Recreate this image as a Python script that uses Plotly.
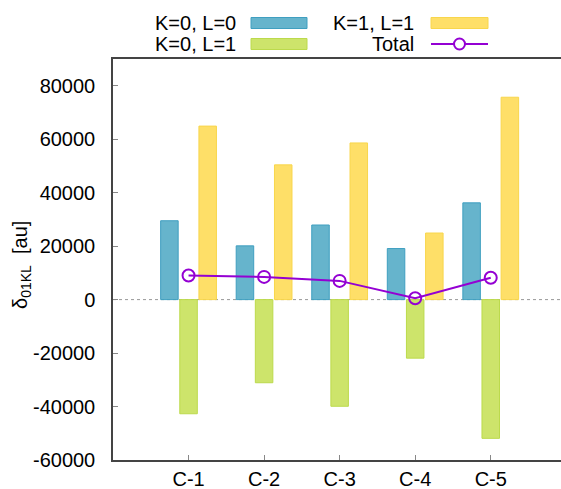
import plotly.graph_objects as go

# Configurations on the x axis
categories = ["C-1", "C-2", "C-3", "C-4", "C-5"]

# Contributions per configuration (atomic units)
k0_l0 = [29500, 20100, 27900, 19100, 36200]
k0_l1 = [-42700, -31100, -39900, -21900, -51900]
k1_l1 = [64900, 50400, 58600, 24900, 75700]
total = [9000, 8500, 7000, 500, 8200]

series_names = ["K=0, L=0", "K=0, L=1", "K=1, L=1", "Total"]

y_tick_values = [-60000, -40000, -20000, 0, 20000, 40000, 60000, 80000]
y_tick_labels = ["-60000", "-40000", "-20000", "0", "20000", "40000", "60000", "80000"]

W, H = 561, 489
ML, MR, MT, MB = 113, 0, 59, 29
PW, PH = W - ML - MR, H - MT - MB

FONT = "Liberation Sans, Arial, sans-serif"
BLUE, BLUE_EDGE = "#66b4cc", "#3f9fc0"
GREEN, GREEN_EDGE = "#cde46b", "#bcda4c"
YELLOW, YELLOW_EDGE = "#fedf68", "#f8d64c"
VIOLET = "#9400d3"
AXIS = "#444444"


def px_x(x):
    return (x - ML) / PW


def px_y(y):
    return (H - MB - y) / PH


fig = go.Figure()
bar_specs = [
    (k0_l0, series_names[0], BLUE, BLUE_EDGE),
    (k0_l1, series_names[1], GREEN, GREEN_EDGE),
    (k1_l1, series_names[2], YELLOW, YELLOW_EDGE),
]
for vals, name, fill, edge in bar_specs:
    fig.add_trace(go.Bar(
        x=categories, y=vals, name=name,
        marker=dict(color=fill, line=dict(color=edge, width=1)),
        showlegend=False,
    ))

fig.add_trace(go.Scatter(
    x=categories, y=total, name=series_names[3], mode="lines+markers",
    line=dict(color=VIOLET, width=2),
    marker=dict(symbol="circle-open", size=12, color=VIOLET, line=dict(width=2, color=VIOLET)),
    showlegend=False,
))

shapes = [
    # dotted zero line
    dict(type="line", xref="paper", yref="y", x0=0, x1=1, y0=0, y1=0,
         line=dict(color="#999999", width=1, dash="dot"), layer="below"),
]
annotations = []

# Key laid out in two columns: label on the left, sample on the right
rows = [23, 44]
cols = [(238, 251, 307), (416, 431, 488)]
key_items = [
    (series_names[0], cols[0], rows[0], "bar", BLUE, BLUE_EDGE),
    (series_names[1], cols[0], rows[1], "bar", GREEN, GREEN_EDGE),
    (series_names[2], cols[1], rows[0], "bar", YELLOW, YELLOW_EDGE),
    (series_names[3], cols[1], rows[1], "line", VIOLET, VIOLET),
]
for name, (tx, sx0, sx1), ry, kind, fill, edge in key_items:
    annotations.append(dict(
        text=name, xref="paper", yref="paper", x=px_x(tx), y=px_y(ry),
        xanchor="right", yanchor="middle", showarrow=False,
        font=dict(family=FONT, size=20, color="black"),
    ))
    if kind == "bar":
        shapes.append(dict(type="rect", xref="paper", yref="paper",
                           x0=px_x(sx0), x1=px_x(sx1), y0=px_y(ry + 5.5), y1=px_y(ry - 5.5),
                           fillcolor=fill, line=dict(color=edge, width=1)))
    else:
        shapes.append(dict(type="line", xref="paper", yref="paper",
                           x0=px_x(sx0), x1=px_x(sx1), y0=px_y(ry), y1=px_y(ry),
                           line=dict(color=fill, width=2)))
        cx, r = (sx0 + sx1) / 2, 5.5
        shapes.append(dict(type="circle", xref="paper", yref="paper",
                           x0=px_x(cx - r), x1=px_x(cx + r), y0=px_y(ry + r), y1=px_y(ry - r),
                           fillcolor="white", line=dict(color=fill, width=2)))

# y-axis title
annotations.append(dict(
    text="δ<sub>01KL</sub>  [au]", xref="paper", yref="paper",
    x=px_x(21), y=px_y(265), textangle=-90, xanchor="center", yanchor="middle",
    showarrow=False, font=dict(family=FONT, size=20, color="black"),
))

fig.update_layout(
    width=W, height=H,
    margin=dict(l=ML, r=MR, t=MT, b=MB, pad=0, autoexpand=False),
    paper_bgcolor="white", plot_bgcolor="white",
    barmode="group", bargap=0.24, bargroupgap=0.085,
    font=dict(family=FONT, size=20, color="black"),
    shapes=shapes, annotations=annotations,
    showlegend=False,
)
fig.update_xaxes(
    range=[-1, 4.93], showgrid=False, zeroline=False, automargin=False,
    showline=True, linecolor=AXIS, linewidth=1.5, mirror=True,
    ticks="inside", ticklen=5, tickcolor="#888888", tickwidth=1,
    tickfont=dict(family=FONT, size=20, color="black"), ticklabelstandoff=0,
)
fig.update_yaxes(
    range=[-60000, 90000], showgrid=False, zeroline=False, automargin=False,
    showline=True, linecolor=AXIS, linewidth=1.5,
    tickvals=y_tick_values, ticktext=y_tick_labels,
    ticks="inside", ticklen=5, tickcolor="#888888", tickwidth=1,
    tickfont=dict(family=FONT, size=20, color="black"), ticklabelstandoff=12,
)

fig.write_html("out.html")
